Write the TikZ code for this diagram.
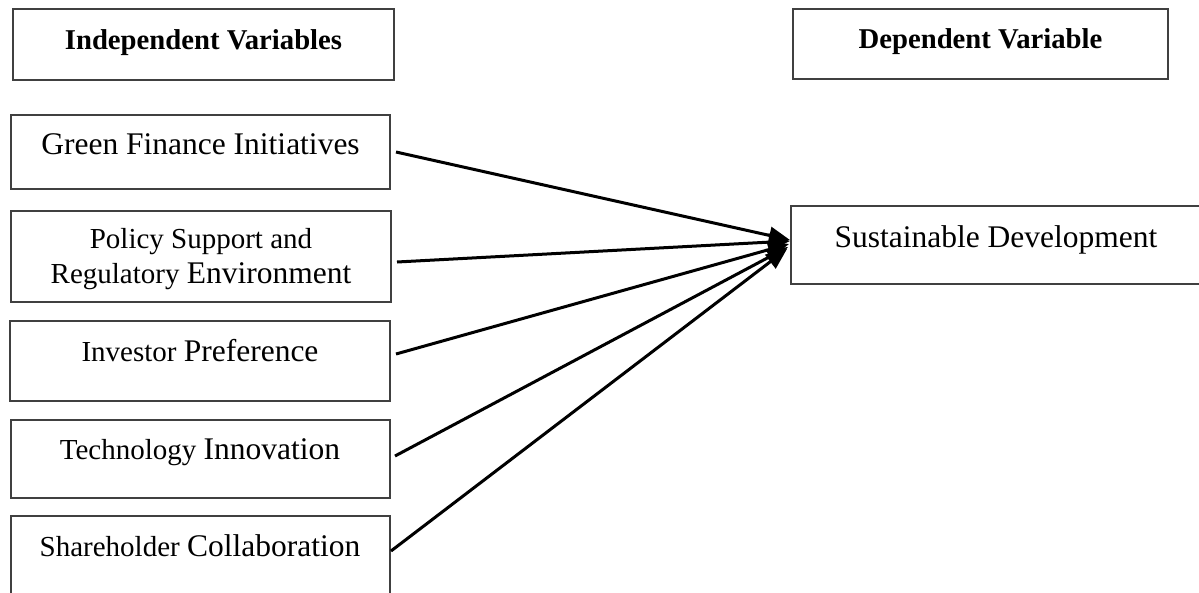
\documentclass[tikz,border=0pt]{standalone}
\usepackage{fontspec}
\setmainfont{Liberation Serif}
\usetikzlibrary{arrows.meta}
\newcommand{\smsz}{\fontsize{29}{34}\selectfont}
\newcommand{\bigsz}{\fontsize{31.5}{36}\selectfont}
\newcommand{\hdsz}{\fontsize{28.7}{34}\selectfont\bfseries}
\begin{document}
\begin{tikzpicture}[x=1pt,y=-1pt,
  boxstyle/.style={draw=black!75,line width=1.3pt},
  txt/.style={inner sep=0pt,anchor=base},
  arr/.style={line width=3pt,-{Triangle[length=21pt,width=17pt]}}]
\useasboundingbox (0,0) rectangle (1199,592);
\clip (0,0) rectangle (1199,592);
\fill[white] (0,0) rectangle (1199,592);
% boxes
\draw[boxstyle] (13,9) rectangle (394,80);
\draw[boxstyle] (793,9) rectangle (1168,79);
\draw[boxstyle] (11,115) rectangle (390,189);
\draw[boxstyle] (11,211) rectangle (391,302);
\draw[boxstyle] (10,321) rectangle (390,401);
\draw[boxstyle] (11,420) rectangle (390,498);
\draw[boxstyle] (11,516) rectangle (390,610);
\draw[boxstyle] (791,206) rectangle (1210,284);
% texts
\node[txt] (indep) at (203.5,49) {\hdsz Independent Variables};
\node[txt] (dep) at (980.5,48) {\hdsz Dependent Variable};
\node[txt] (green) at (200.5,154) {\bigsz Green Finance Initiatives};
\node[txt] (policyA) at (201,248) {\smsz Policy Support and};
\node[txt] (policyB) at (201,283) {\smsz Regulatory \bigsz Environment};
\node[txt] (inv) at (200,361) {\smsz Investor \bigsz Preference};
\node[txt] (tech) at (200,459) {\smsz Technology \bigsz Innovation};
\node[txt] (share) at (200,556) {\smsz Shareholder \bigsz Collaboration};
\node[txt] (sust) at (996,247) {\bigsz Sustainable Development};
% connector ends
\coordinate (sGreen) at (396,152);
\coordinate (sPolicy) at (397,262);
\coordinate (sInv) at (396,354);
\coordinate (sTech) at (395,456);
\coordinate (sShare) at (391,551);
\coordinate (tGreen) at (790,240);
\coordinate (tPolicy) at (790,241);
\coordinate (tInv) at (789,244);
\coordinate (tTech) at (788,247);
\coordinate (tShare) at (787,249);
\draw[arr] (sGreen) -- (tGreen);
\draw[arr] (sPolicy) -- (tPolicy);
\draw[arr] (sInv) -- (tInv);
\draw[arr] (sTech) -- (tTech);
\draw[arr] (sShare) -- (tShare);
\end{tikzpicture}
\end{document}
